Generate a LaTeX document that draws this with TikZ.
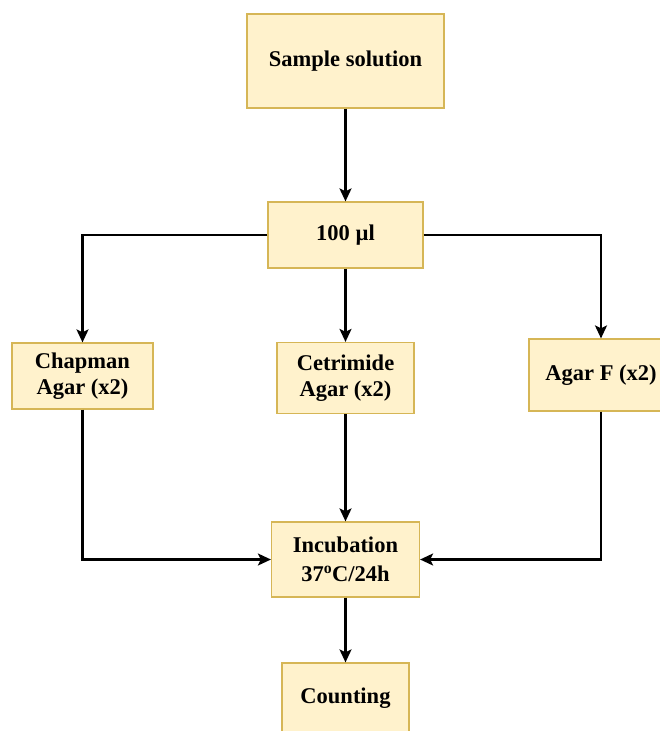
\documentclass[tikz,border=0pt]{standalone}
\usepackage{fontspec}
\setmainfont{Liberation Serif}
\usetikzlibrary{arrows.meta,positioning}

\definecolor{boxfill}{HTML}{FFF2CC}
\definecolor{boxline}{HTML}{D6B656}

\tikzset{
  stage/.style={draw=boxline,fill=boxfill,line width=1.2pt,align=center,
    font=\fontsize{22.5}{25.5}\selectfont\bfseries,inner sep=0pt},
  flow/.style={line width=2.3pt,-{Stealth[length=13pt,width=12pt,inset=3pt]}}
}

\begin{document}
\begin{tikzpicture}[x=1pt,y=-1pt]
    \useasboundingbox (0,0) rectangle (659,731);

    \node[stage,minimum width=197pt,minimum height=94pt] (sample) at (345.5,61) {Sample solution};
    \node[stage,minimum width=155pt,minimum height=66pt] (vol) at (345.5,235) {100 µl};

    % the three agar plates
    \node[stage,minimum width=141pt,minimum height=66pt] (chapman) at (82.5,376) {Chapman\\Agar (x2)};
    \node[stage,minimum width=137pt,minimum height=71pt] (cetrimide) at (345.5,378) {Cetrimide\\Agar (x2)};
    \node[stage,minimum width=144pt,minimum height=72pt] (agarF) at (601,375) {Agar F (x2)};

    \node[stage,minimum width=148pt,minimum height=75pt] (incub) at (345.5,559.5) {Incubation\\[3pt]37\textsuperscript{o}C/24h};
    \node[stage,minimum width=127pt,minimum height=70pt] (count) at (345.5,698) {Counting};

    \draw[flow] (sample) -- (vol);
    \draw[flow] (vol.west) -| (chapman.north);
    \draw[flow] (vol) -- (cetrimide);
    \draw[flow] (vol.east) -| (agarF.north);

    \draw[flow] (chapman.south) |- (incub.west);
    \draw[flow] (cetrimide) -- (incub);
    \draw[flow] (agarF.south) |- (incub.east);
    \draw[flow] (incub) -- (count);
\end{tikzpicture}
\end{document}
